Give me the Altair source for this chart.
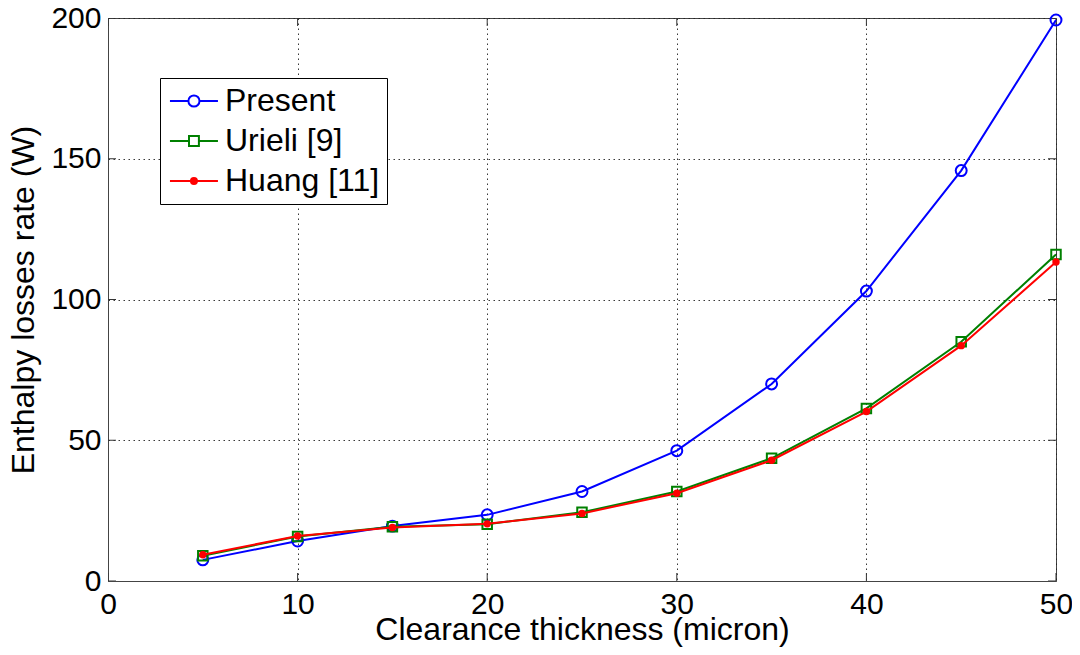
import altair as alt
import pandas as pd

# ---- data ----
thickness = [5, 10, 15, 20, 25, 30, 35, 40, 45, 50]
present = [7.5, 14.2, 19.5, 23.5, 31.8, 46.3, 70.0, 103.0, 145.8, 199.3]
urieli = [9.0, 15.8, 19.3, 20.2, 24.4, 31.8, 43.6, 61.3, 85.0, 116.0]
huang = [9.3, 16.0, 19.0, 20.3, 24.0, 31.2, 42.9, 60.2, 83.6, 113.3]

series_names = ["Present", "Urieli [9]", "Huang [11]"]
series_colors = ["#0000ff", "#008000", "#ff0000"]
x_ticks = [0, 10, 20, 30, 40, 50]
y_ticks = [0, 50, 100, 150, 200]

rows = []
for name, vals in zip(series_names, [present, urieli, huang]):
    for xv, yv in zip(thickness, vals):
        rows.append({"x": xv, "y": yv, "series": name})
df = pd.DataFrame(rows)

FONT = "Liberation Sans"

xscale = alt.Scale(domain=[0, 50], nice=False, zero=False)
yscale = alt.Scale(domain=[0, 200], nice=False, zero=False)

xaxis = alt.Axis(values=x_ticks, title="Clearance thickness (micron)", grid=True,
                 gridDash=[1.5, 3.5], gridColor="#222222", gridWidth=1, gridOpacity=0.9,
                 tickSize=0, labelPadding=8, labelFontSize=30, labelFont=FONT,
                 labelColor="black", titleFontSize=32, titleFont=FONT, titleColor="black",
                 titleFontWeight="normal", titlePadding=-5, domainColor="#444444",
                 labelFlush=False, labelOverlap=False)
yaxis = alt.Axis(values=y_ticks, title="Enthalpy losses rate (W)", grid=True,
                 gridDash=[1.5, 3.5], gridColor="#222222", gridWidth=1, gridOpacity=0.9,
                 tickSize=0, labelPadding=7, labelFontSize=30, labelFont=FONT,
                 labelColor="black", titleFontSize=32, titleFont=FONT, titleColor="black",
                 titleFontWeight="normal", titlePadding=10, domainColor="#444444",
                 labelFlush=False, labelOverlap=False)

base = alt.Chart(df)

layers = []
marker_specs = [
    ("Present", "#0000ff", "circle", False, 120),
    ("Urieli [9]", "#008000", "square", False, 90),
    ("Huang [11]", "#ff0000", "circle", True, 55),
]
first = True
for name, col, shp, filled, sz in marker_specs:
    sub = base.transform_filter(alt.datum.series == name)
    if first:
        xenc = alt.X("x:Q", scale=xscale, axis=xaxis)
        yenc = alt.Y("y:Q", scale=yscale, axis=yaxis)
        first = False
    else:
        xenc = alt.X("x:Q", scale=xscale)
        yenc = alt.Y("y:Q", scale=yscale)
    line = sub.mark_line(color=col, strokeWidth=2).encode(x=xenc, y=yenc)
    pts = sub.mark_point(color=col, shape=shp, filled=filled, size=sz,
                         strokeWidth=2, opacity=1).encode(x="x:Q", y="y:Q")
    layers += [line, pts]

# legend symbols: line with marker (custom paths, scale 15 px per unit)
legend_paths = [
    "M-0.87,0H0.36M1.10,0H2.33M0.36,0A0.37,0.37 0 1 1 1.10,0A0.37,0.37 0 1 1 0.36,0",
    "M-0.87,0H0.40M1.06,0H2.33M0.40,-0.33H1.06V0.33H0.40Z",
    "M-0.87,0H2.33M0.53,0A0.2,0.2 0 1 1 0.93,0A0.2,0.2 0 1 1 0.53,0M0.65,0A0.08,0.08 0 1 1 0.81,0A0.08,0.08 0 1 1 0.65,0",
]
legend = alt.Legend(title=None, orient="none", legendX=52, legendY=60, padding=7,
                    rowPadding=8, symbolSize=900, symbolStrokeWidth=2, symbolOpacity=1,
                    labelFontSize=32, labelFont=FONT, labelColor="black", labelOffset=26,
                    labelLimit=400, strokeColor="black", fillColor="white")
ghost = base.mark_point(opacity=0, filled=False).encode(
    x="x:Q", y="y:Q",
    color=alt.Color("series:N", scale=alt.Scale(domain=series_names, range=series_colors),
                    legend=legend),
    shape=alt.Shape("series:N", scale=alt.Scale(domain=series_names, range=legend_paths),
                    legend=legend),
)
layers.append(ghost)

# inward tick marks on all four sides (clipped to plot area)
xt = pd.DataFrame([{"x": v, "y": yy} for v in x_ticks for yy in (0, 200)])
yt = pd.DataFrame([{"x": xx, "y": v} for v in y_ticks for xx in (0, 50)])
xtick_layer = alt.Chart(xt).mark_tick(orient="vertical", size=16, thickness=1,
                                      color="#333333", clip=True, opacity=1).encode(x="x:Q", y="y:Q")
ytick_layer = alt.Chart(yt).mark_tick(orient="horizontal", size=16, thickness=1,
                                      color="#333333", clip=True, opacity=1).encode(x="x:Q", y="y:Q")

chart = alt.layer(xtick_layer, ytick_layer, *layers).properties(
    width=948, height=563,
    autosize=alt.AutoSizeParams(type="none"),
    padding={"left": 100, "top": 10, "right": 16, "bottom": 66},
    background="white",
).configure_view(stroke="#444444", strokeWidth=1)

chart.save("out.html", embed_options={"renderer": "svg", "actions": False})
